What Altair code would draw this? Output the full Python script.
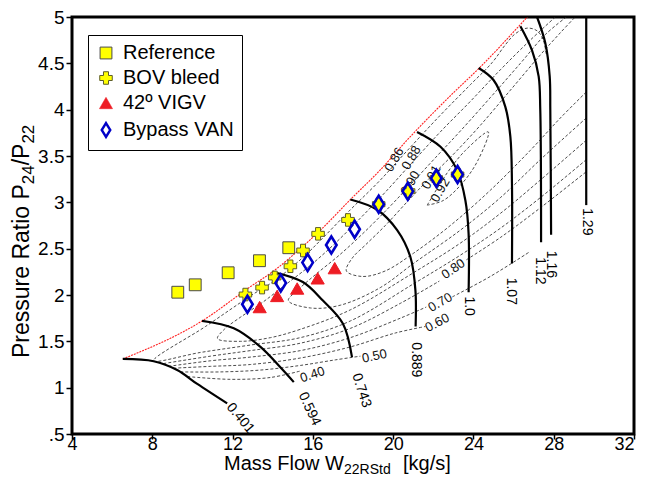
import altair as alt
import pandas as pd

FONT = "Liberation Sans"

# ---------------- measured data points ----------------
series_names = ["Reference", "BOV bleed", "42º VIGV", "Bypass VAN"]
ref_x = [9.27, 10.14, 11.78, 13.34, 14.80]
ref_y = [2.03, 2.11, 2.24, 2.37, 2.51]
bov_x = [12.64, 13.47, 14.10, 14.88, 15.51, 16.26, 17.75, 19.28, 20.77, 22.15, 23.21]
bov_y = [2.005, 2.08, 2.19, 2.31, 2.48, 2.66, 2.81, 2.98, 3.12, 3.26, 3.30]
vigv_x = [13.35, 14.22, 15.22, 16.24, 17.09]
vigv_y = [1.87, 1.99, 2.07, 2.18, 2.29]
van_x = [12.74, 14.40, 15.74, 16.92, 18.08, 19.28, 20.73, 22.15, 23.21]
van_y = [1.90, 2.13, 2.35, 2.54, 2.71, 2.98, 3.12, 3.26, 3.30]

# ---------------- surge line ----------------
surge_x = [6.53, 10.48, 12.89, 14.05, 15.48, 16.38, 17.87, 19.36, 20.69, 22.85, 24.34, 26.68]
surge_y = [1.31, 1.72, 2.09, 2.26, 2.52, 2.70, 3.03, 3.35, 3.67, 4.15, 4.46, 5.00]

# ---------------- speed lines ----------------
sp0401_x = [6.53, 8.07, 9.24, 10.24, 11.73]
sp0401_y = [1.31, 1.285, 1.19, 1.04, 0.83]
sp0594_x = [10.48, 12.06, 13.39, 14.38, 15.05]
sp0594_y = [1.72, 1.64, 1.44, 1.22, 1.06]
sp0743_x = [13.97, 15.50, 16.50, 17.50, 17.95]
sp0743_y = [2.25, 2.14, 1.94, 1.69, 1.33]
sp0889_x = [17.87, 19.20, 20.20, 20.86, 21.11, 21.12]
sp0889_y = [3.03, 2.92, 2.70, 2.41, 2.05, 1.66]
sp100_x = [21.19, 22.36, 23.18, 23.60, 23.76, 23.76]
sp100_y = [3.76, 3.60, 3.35, 3.02, 2.66, 2.03]
sp107_x = [24.26, 25.00, 25.59, 25.84, 25.92, 25.92]
sp107_y = [4.45, 4.32, 4.03, 3.71, 3.20, 2.34]
sp112_x = [26.34, 26.92, 27.25, 27.33, 27.37]
sp112_y = [4.90, 4.64, 4.36, 4.00, 2.57]
sp116_x = [27.17, 27.58, 27.80, 27.83, 27.87]
sp116_y = [5.00, 4.72, 4.36, 4.00, 2.65]
sp129_x = [29.62, 29.62]
sp129_y = [5.00, 2.97]

speed_text = ["0.401", "0.594", "0.743", "0.889", "1.0", "1.07", "1.12", "1.16", "1.29"]
speed_lbl_x = [12.39, 15.83, 18.42, 21.16, 23.80, 25.89, 27.33, 27.88, 29.67]
speed_lbl_y = [0.67, 0.77, 0.97, 1.30, 1.88, 2.04, 2.26, 2.33, 2.79]
speed_lbl_ang = [50, 65, 72, 90, 90, 90, 90, 90, 90]

# ---------------- efficiency contours ----------------
c040_x = [9.75, 11.89, 13.89, 15.38]
c040_y = [1.12, 1.09, 1.11, 1.18]
c050_x = [9.40, 11.40, 13.39, 15.38, 17.12, 18.37]
c050_y = [1.17, 1.17, 1.19, 1.24, 1.30, 1.34]
c060_x = [9.05, 10.90, 12.89, 15.38, 17.87, 20.11, 21.60]
c060_y = [1.21, 1.23, 1.25, 1.32, 1.44, 1.59, 1.66]
c070a_x = [8.81, 10.90, 12.89, 15.38, 17.87, 20.36, 21.65]
c070a_y = [1.23, 1.29, 1.33, 1.40, 1.54, 1.75, 1.87]
c070b_x = [22.95, 24.84, 26.83]
c070b_y = [1.98, 2.20, 2.47]
c080a_x = [8.56, 10.90, 12.89, 15.38, 17.87, 20.36, 22.30]
c080a_y = [1.26, 1.34, 1.40, 1.48, 1.64, 1.91, 2.15]
c080b_x = [23.65, 25.34, 27.33, 29.62]
c080b_y = [2.38, 2.62, 2.94, 3.33]
c086_x = [29.62, 27.33, 25.34, 23.35, 21.01, 17.87, 15.38, 12.89, 10.40, 8.06,
          10.65, 12.89, 14.13, 15.53, 16.38, 17.87, 19.36, 20.71, 22.35, 23.85,
          24.94, 25.59, 26.09, 26.68, 27.18, 27.48, 27.63]
c086_y = [3.46, 3.05, 2.72, 2.43, 2.12, 1.72, 1.54, 1.46, 1.38, 1.29,
          1.66, 1.99, 2.16, 2.41, 2.59, 2.92, 3.24, 3.56, 3.94, 4.27,
          4.51, 4.70, 4.82, 4.88, 4.85, 4.75, 4.59]
c088_x = [29.62, 27.33, 25.34, 23.35, 21.01, 17.87, 15.38, 13.89, 12.39, 11.25,
          11.59, 12.39, 13.49, 14.63, 15.88, 17.12, 18.37, 19.61, 20.91, 22.35,
          23.85, 25.34, 26.83, 28.08]
c088_y = [3.67, 3.24, 2.88, 2.56, 2.24, 1.84, 1.63, 1.54, 1.50, 1.53,
          1.63, 1.76, 1.92, 2.11, 2.32, 2.56, 2.83, 3.11, 3.42, 3.76,
          4.09, 4.43, 4.75, 5.00]
c090_x = [29.62, 27.33, 25.34, 23.35, 21.01, 19.36, 17.37, 15.88, 14.78, 15.28,
          16.13, 17.37, 18.62, 19.86, 20.86, 22.10, 23.35, 24.84, 26.34, 27.58, 28.63]
c090_y = [3.91, 3.46, 3.05, 2.70, 2.34, 2.08, 1.89, 1.86, 1.94, 2.06,
          2.22, 2.44, 2.69, 2.96, 3.19, 3.48, 3.77, 4.13, 4.50, 4.81, 5.00]
c091_x = [29.62, 28.33, 26.83, 24.84, 22.85, 21.01, 19.61, 18.47, 17.67, 17.97,
          18.62, 19.61, 20.76, 21.90, 23.10, 24.34, 25.84, 27.33, 28.33, 29.07]
c091_y = [4.19, 3.91, 3.56, 3.13, 2.75, 2.45, 2.26, 2.20, 2.26, 2.40,
          2.54, 2.75, 3.02, 3.28, 3.54, 3.83, 4.21, 4.59, 4.83, 5.00]
c092_x = [21.70, 22.70, 23.60, 24.74, 24.24, 23.50, 22.50, 21.70]
c092_y = [2.97, 3.32, 3.56, 3.76, 3.46, 3.22, 3.02, 2.97]

eff_text = ["0.40", "0.50", "0.60", "0.70", "0.80", "0.86", "0.88", "0.90", "0.91", "0.92"]
eff_lbl_x = [15.98, 19.07, 22.20, 22.35, 23.00, 20.06, 20.91, 20.86, 21.90, 22.35]
eff_lbl_y = [1.14, 1.34, 1.70, 1.92, 2.28, 3.46, 3.48, 3.21, 3.27, 3.13]
eff_lbl_ang = [342, 348, 332, 330, 325, 300, 300, 300, 300, 300]

x_ticks = [4, 8, 12, 16, 20, 24, 28, 32]
y_ticks = [0.5, 1, 1.5, 2, 2.5, 3, 3.5, 4, 4.5, 5]


def path_frame(pairs):
    rows = []
    for name, xs, ys in pairs:
        for i, (xv, yv) in enumerate(zip(xs, ys)):
            rows.append({"id": name, "i": i, "x": xv, "y": yv})
    return pd.DataFrame(rows)


speed_df = path_frame([
    ("0.401", sp0401_x, sp0401_y), ("0.594", sp0594_x, sp0594_y),
    ("0.743", sp0743_x, sp0743_y), ("0.889", sp0889_x, sp0889_y),
    ("1.0", sp100_x, sp100_y), ("1.07", sp107_x, sp107_y),
    ("1.12", sp112_x, sp112_y), ("1.16", sp116_x, sp116_y),
    ("1.29", sp129_x, sp129_y),
])
cont_df = path_frame([
    ("c040", c040_x, c040_y), ("c050", c050_x, c050_y), ("c060", c060_x, c060_y),
    ("c070a", c070a_x, c070a_y), ("c070b", c070b_x, c070b_y),
    ("c080a", c080a_x, c080a_y), ("c080b", c080b_x, c080b_y),
    ("c086", c086_x, c086_y), ("c088", c088_x, c088_y), ("c090", c090_x, c090_y),
    ("c091", c091_x, c091_y), ("c092", c092_x, c092_y),
])
surge_df = path_frame([("surge", surge_x, surge_y)])

pts_rows = []
for s, xs, ys in [(series_names[0], ref_x, ref_y), (series_names[1], bov_x, bov_y),
                  (series_names[2], vigv_x, vigv_y)]:
    for xv, yv in zip(xs, ys):
        pts_rows.append({"s": s, "x": xv, "y": yv})
pts_df = pd.DataFrame(pts_rows)
van_df = pd.DataFrame({"s": series_names[3], "x": van_x, "y": van_y})

speed_lbl_df = pd.DataFrame({"t": speed_text, "x": speed_lbl_x, "y": speed_lbl_y, "a": speed_lbl_ang})
eff_lbl_df = pd.DataFrame({"t": eff_text, "x": eff_lbl_x, "y": eff_lbl_y, "a": eff_lbl_ang})

xsc = alt.Scale(domain=[4, 32], nice=False, zero=False)
ysc = alt.Scale(domain=[0.5, 5], nice=False, zero=False)
xaxis = alt.Axis(values=x_ticks, title=None, grid=False, domain=False, tickSize=5,
                 tickWidth=1.5, tickColor="black", labelFontSize=18, labelFont=FONT,
                 labelColor="black", labelPadding=-4, labelOverlap=False, labelFlush=False,
                 labelAlign={"condition": {"test": "datum.value == 32", "value": "right"},
                             "value": "center"})
yaxis = alt.Axis(values=y_ticks, title=None, grid=False, domain=False, tickSize=6,
                 tickWidth=1.5, tickColor="black", labelFontSize=19, labelFont=FONT,
                 labelColor="black", labelPadding=2, labelOverlap=False, labelFlush=False,
                 labelExpr="datum.value == 0.5 ? '.5' : format(datum.value, '~g')")
X = alt.X("x:Q", scale=xsc, axis=xaxis)
Y = alt.Y("y:Q", scale=ysc, axis=yaxis)

contours = alt.Chart(cont_df).mark_line(
    color="#2a2a2a", strokeWidth=0.85, strokeDash=[3, 2], interpolate="catmull-rom", clip=True
).encode(x=X, y=Y, detail="id:N", order="i:Q")

surge = alt.Chart(surge_df).mark_line(
    color="#ff2020", strokeWidth=1.1, strokeDash=[2, 1], interpolate="monotone", clip=True
).encode(x=X, y=Y, order="i:Q")

speeds = alt.Chart(speed_df).mark_line(
    color="black", strokeWidth=2.2, interpolate="catmull-rom", clip=True
).encode(x=X, y=Y, detail="id:N", order="i:Q")

speed_lbls = alt.Chart(speed_lbl_df).mark_text(
    font=FONT, fontSize=14, color="black", align="center", baseline="middle", clip=True
).encode(x=X, y=Y, text="t:N", angle=alt.Angle("a:Q", scale=None))

eff_lbls = alt.Chart(eff_lbl_df).mark_text(
    font=FONT, fontSize=13, color="#111111", align="center", baseline="middle"
).encode(x=X, y=Y, text="t:N", angle=alt.Angle("a:Q", scale=None))

diamond = "M0,-1L0.62,0L0,1L-0.62,0Z"
leg = alt.Legend(
    title=None, orient="none", legendX=16, legendY=18,
    symbolStrokeWidth=alt.ExprRef(
        "datum.value === 'Bypass VAN' ? 2.4 : (datum.value === '42º VIGV' ? 0.5 : 1)"),
)
points = alt.Chart(pts_df).mark_point(filled=True, opacity=1, strokeWidth=1).encode(
    x=X, y=Y,
    shape=alt.Shape("s:O", scale=alt.Scale(domain=series_names,
                    range=["square", "cross", "triangle-up", diamond]), legend=leg),
    fill=alt.Fill("s:O", scale=alt.Scale(domain=series_names,
                  range=["#ffff00", "#ffff00", "#ee1c24", "transparent"]), legend=leg),
    stroke=alt.Stroke("s:O", scale=alt.Scale(domain=series_names,
                      range=["#4a4a4a", "#5e5e2a", "#ee1c24", "#0000c8"]), legend=leg),
    size=alt.Size("s:O", scale=alt.Scale(domain=series_names,
                  range=[140, 190, 190, 250]), legend=leg),
)
van_points = alt.Chart(van_df).mark_point(
    shape=diamond, filled=False, fill="transparent", stroke="#0000c8",
    strokeWidth=2.6, size=290, opacity=1
).encode(x=X, y=Y)


def text_piece(txt, px, py, size, angle=0):
    return alt.Chart(pd.DataFrame({"t": [txt]})).mark_text(
        font=FONT, fontSize=size, color="black", align="left", baseline="alphabetic", angle=angle
    ).encode(x=alt.value(px), y=alt.value(py), text="t:N")


x_title = [
    text_piece("Mass Flow W", 152, 453, 20),
    text_piece("22RStd", 272, 457, 14),
    text_piece("[kg/s]", 331, 453, 20),
]
y_title = [
    text_piece("Pressure Ratio P", -43, 341, 23, 270),
    text_piece("24", -38, 167.2, 17, 270),
    text_piece("/P", -43, 148.3, 23, 270),
    text_piece("22", -38, 126.6, 17, 270),
]

chart = alt.layer(
    contours, surge, speeds, speed_lbls, eff_lbls, points, van_points, *x_title, *y_title
).properties(
    width=562, height=417,
    autosize=alt.AutoSizeParams(type="none"),
    padding={"left": 64, "top": 9, "right": 4, "bottom": 41},
).configure_view(
    stroke="black", strokeWidth=3
).configure_legend(
    labelFont=FONT, labelFontSize=20, labelColor="black", padding=8,
    strokeColor="black", fillColor="white", rowPadding=5, labelOffset=7,
    symbolOpacity=1, cornerRadius=0
)

chart.save("out.html", embed_options={"renderer": "svg", "actions": False})
